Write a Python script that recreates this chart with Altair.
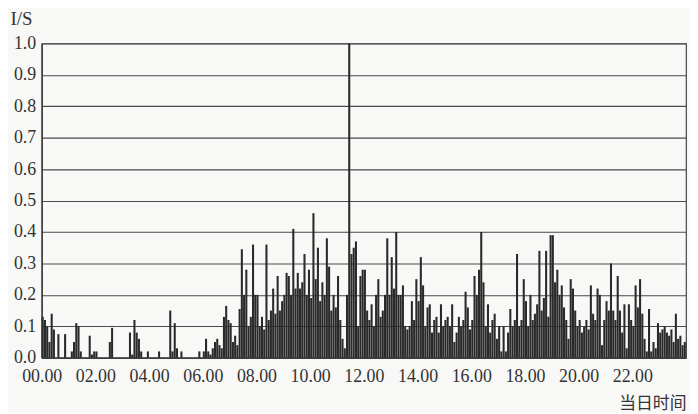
import altair as alt
import pandas as pd

# 5-minute samples, 12 per hour (values in 1/s)
h00 = [0.13, 0.12, 0.10, 0.05, 0.14, 0.09, 0, 0.075, 0, 0, 0.075, 0]
h01 = [0, 0.02, 0.05, 0.11, 0.10, 0.02, 0, 0, 0, 0.07, 0.01, 0.02]
h02 = [0.02, 0, 0, 0, 0, 0, 0.05, 0.095, 0, 0, 0, 0]
h03 = [0, 0, 0, 0.08, 0.01, 0.12, 0.08, 0.06, 0.02, 0, 0, 0.02]
h04 = [0, 0, 0, 0, 0.02, 0, 0, 0, 0, 0.15, 0.02, 0.11]
h05 = [0.03, 0, 0.02, 0, 0, 0, 0, 0, 0, 0, 0.02, 0]
h06 = [0.02, 0.06, 0.02, 0.01, 0.03, 0.05, 0.06, 0.04, 0.03, 0.13, 0.165, 0.12]
h07 = [0.11, 0.05, 0.07, 0.04, 0.155, 0.345, 0.2, 0.28, 0.1, 0.13, 0.36, 0.2]
h08 = [0.2, 0.1, 0.13, 0.09, 0.36, 0.12, 0.15, 0.22, 0.14, 0.26, 0.15, 0.18]
h09 = [0.2, 0.27, 0.26, 0.2, 0.41, 0.22, 0.27, 0.22, 0.24, 0.33, 0.2, 0.28]
h10 = [0.19, 0.46, 0.25, 0.35, 0.18, 0.24, 0.2, 0.38, 0.29, 0.15, 0.2, 0.16]
h11 = [0.26, 0.12, 0.06, 0.03, 0.2, 1.0, 0.33, 0.35, 0.37, 0.1, 0.26, 0.28]
h12 = [0.28, 0.15, 0.12, 0.17, 0.1, 0.2, 0.25, 0.13, 0.15, 0.2, 0.38, 0.2]
h13 = [0.32, 0.22, 0.4, 0.2, 0.2, 0.23, 0.1, 0.09, 0.1, 0.18, 0.12, 0.25]
h14 = [0.18, 0.32, 0.23, 0.1, 0.16, 0.17, 0.08, 0.12, 0.13, 0.08, 0.17, 0.1]
h15 = [0.12, 0.13, 0.1, 0.17, 0.05, 0.08, 0.13, 0.1, 0.12, 0.21, 0.16, 0.09]
h16 = [0.12, 0.26, 0.2, 0.28, 0.40, 0.24, 0.1, 0.17, 0.08, 0.12, 0.14, 0.06]
h17 = [0.1, 0.02, 0.1, 0.02, 0.08, 0.155, 0.1, 0.12, 0.33, 0.1, 0.12, 0.25]
h18 = [0.18, 0.1, 0.2, 0.12, 0.14, 0.17, 0.34, 0.15, 0.19, 0.34, 0.13, 0.39]
h19 = [0.39, 0.24, 0.28, 0.2, 0.23, 0.16, 0.12, 0.06, 0.25, 0.22, 0.15, 0.1]
h20 = [0.12, 0.08, 0.1, 0.12, 0.09, 0.23, 0.14, 0.12, 0.22, 0.2, 0.04, 0.12]
h21 = [0.18, 0.15, 0.3, 0.15, 0.12, 0.26, 0.15, 0.08, 0.17, 0.03, 0.17, 0.12]
h22 = [0.1, 0.23, 0.16, 0.25, 0.14, 0.06, 0.02, 0.155, 0.02, 0.05, 0.03, 0.11]
h23 = [0.08, 0.09, 0.1, 0.08, 0.07, 0.09, 0.05, 0.14, 0.06, 0.07, 0.04, 0.05]

hours = [h00, h01, h02, h03, h04, h05, h06, h07, h08, h09, h10, h11,
         h12, h13, h14, h15, h16, h17, h18, h19, h20, h21, h22, h23]

x_ticks = [0, 2, 4, 6, 8, 10, 12, 14, 16, 18, 20, 22]
y_ticks = [0.0, 0.1, 0.2, 0.3, 0.4, 0.5, 0.6, 0.7, 0.8, 0.9, 1.0]

rows = []
for h, vals in enumerate(hours):
    for i, v in enumerate(vals):
        t = h + i * 5 / 60
        rows.append({"t": t, "t2": t + 4.6 / 60, "v": v})
df = pd.DataFrame(rows)

FONT = "Liberation Serif"

chart = alt.Chart(df).mark_bar(color="#2a2a2a").encode(
    x=alt.X("t:Q", scale=alt.Scale(domain=[0, 24], nice=False),
            axis=alt.Axis(values=x_ticks, grid=False, ticks=False,
                          labelExpr="(datum.value < 10 ? '0' : '') + datum.value + '.00'",
                          labelFont=FONT, labelFontSize=18, labelColor="#333",
                          labelPadding=10, labelFlush=False,
                          domainColor="#333", domainWidth=1.2,
                          title="当日时间", titleFont="Noto Sans CJK SC",
                          titleFontSize=17, titleFontWeight="normal", titleColor="#333",
                          titleAnchor="end", titleAlign="right", titleX=650, titleY=51,
                          titleBaseline="alphabetic")),
    x2="t2:Q",
    y=alt.Y("v:Q", scale=alt.Scale(domain=[0, 1], nice=False),
            axis=alt.Axis(values=y_ticks, format=".1f", grid=True, ticks=False,
                          gridColor="#4a4a4a", gridWidth=1.1,
                          labelFont=FONT, labelFontSize=18, labelColor="#333",
                          labelPadding=6, domainColor="#333", domainWidth=1.2,
                          title="I/S", titleFont=FONT, titleFontSize=19,
                          titleFontWeight="normal", titleColor="#333",
                          titleAngle=0, titleAlign="left", titleBaseline="alphabetic",
                          titleX=-32, titleY=-19)),
    y2=alt.datum(0),
).properties(
    width=650, height=317,
    autosize=alt.AutoSizeParams(type="none"),
    padding={"left": 34, "top": 34, "right": 4, "bottom": 54},
    background="#f8f8f6",
).configure_view(stroke="#444", strokeWidth=1.2)

chart.save("out.html", embed_options={"renderer": "svg", "actions": False})
